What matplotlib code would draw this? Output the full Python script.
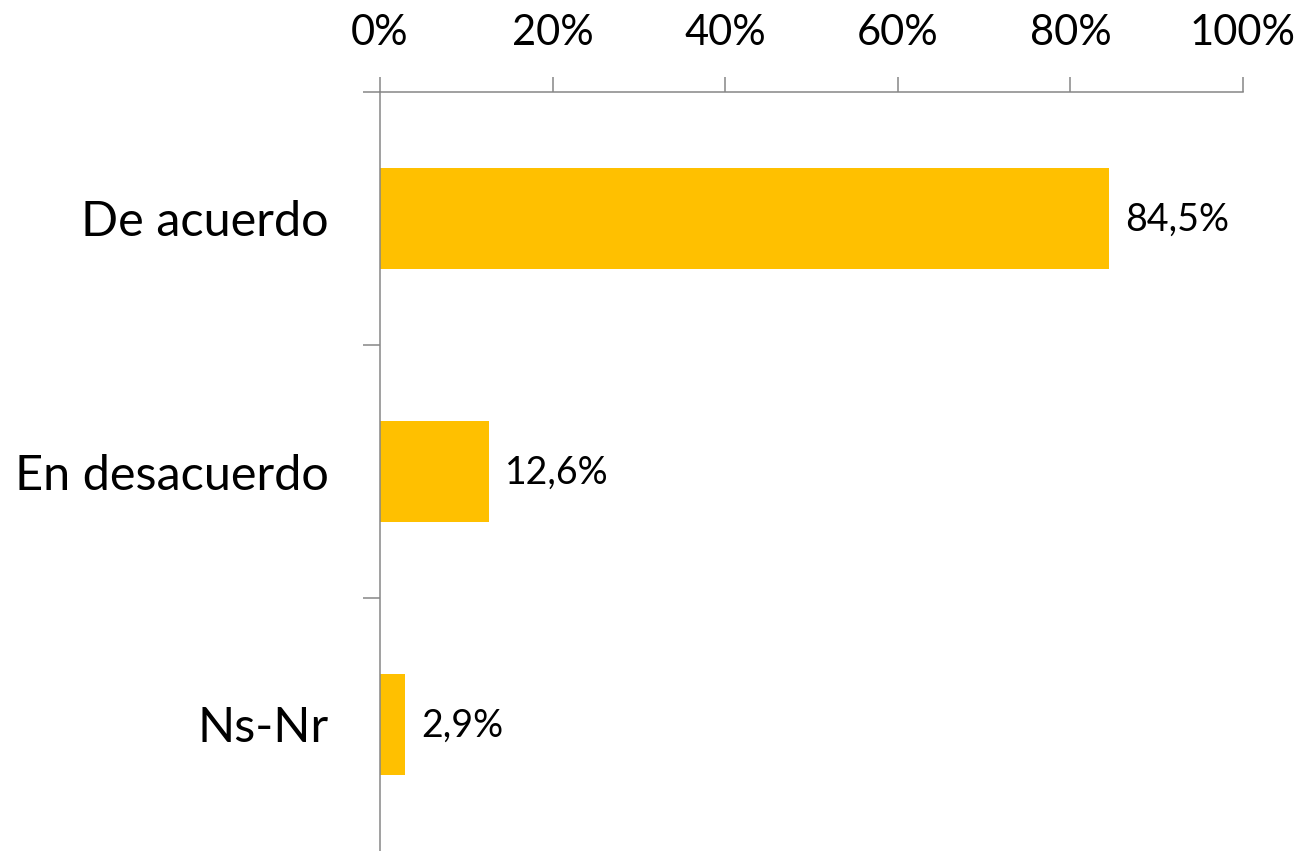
import numpy as np
import matplotlib.pyplot as plt
from matplotlib.ticker import FixedLocator, PercentFormatter

plt.rcParams["font.family"] = ["Lato", "DejaVu Sans"]

categories = ["De acuerdo", "En desacuerdo", "Ns-Nr"]
values = [84.5, 12.6, 2.9]
value_labels = ["84,5%", "12,6%", "2,9%"]
x_ticks = [0, 20, 40, 60, 80, 100]

g_bar_color = "#FFC000"
g_axis_color = "#868686"


def main():
    fig = plt.figure(figsize=(13.01, 8.51), dpi=100)
    ax = fig.add_axes([380 / 1301, 0.0, 863 / 1301, 1 - 92 / 851])

    y = np.arange(len(categories))
    ax.barh(y, values, height=0.4, color=g_bar_color, zorder=2)

    ax.set_xlim(0, 100)
    ax.set_ylim(2.5, -0.5)

    # x axis on top
    ax.xaxis.tick_top()
    ax.set_xticks(x_ticks)
    ax.xaxis.set_major_formatter(PercentFormatter(decimals=0))
    ax.tick_params(axis="x", which="major", direction="out", length=11,
                   width=1.1, color=g_axis_color, labelsize=30, pad=18)

    # category labels centered, ticks at boundaries
    ax.set_yticks(y)
    ax.set_yticklabels(categories)
    ax.tick_params(axis="y", which="major", length=0, labelsize=35, pad=37)
    ax.yaxis.set_minor_locator(FixedLocator([-0.5, 0.5, 1.5]))
    ax.tick_params(axis="y", which="minor", direction="out", length=12,
                   width=1.1, color=g_axis_color)

    for side in ["right", "bottom"]:
        ax.spines[side].set_visible(False)
    for side in ["top", "left"]:
        ax.spines[side].set_color(g_axis_color)
        ax.spines[side].set_linewidth(1.1)

    for yi, v, lab in zip(y, values, value_labels):
        ax.annotate(lab, xy=(v, yi), xytext=(11.5, -1), textcoords="offset points",
                    ha="left", va="center", fontsize=27)

    fig.savefig("out.png", dpi=100)


if __name__ == "__main__":
    main()
